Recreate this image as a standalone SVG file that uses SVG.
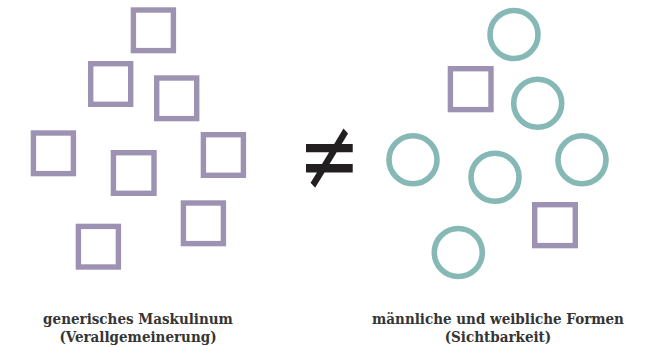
<svg xmlns="http://www.w3.org/2000/svg" width="648" height="347" viewBox="0 0 648 347">
<style>
.sq{fill:none;stroke:#9e92b2;stroke-width:5.4}
.ci{fill:none;stroke:#86b9b6;stroke-width:5.6}
.lbl{font-family:"DejaVu Serif Condensed","DejaVu Serif",serif;font-weight:bold;font-size:15px;fill:#353535;text-anchor:middle}
.ne{font-family:"DejaVu Sans",sans-serif;font-size:100.8px;fill:#231f20;text-anchor:middle}
</style>
<rect width="648" height="347" fill="#ffffff"/>
<g id="left-group">
<rect id="sq1" class="sq" x="133.4" y="10" width="40" height="40.6"/>
<rect id="sq2" class="sq" x="90.7" y="63.7" width="40" height="40.6"/>
<rect id="sq3" class="sq" x="156.7" y="78" width="40" height="40.6"/>
<rect id="sq4" class="sq" x="33.4" y="133" width="40" height="40.6"/>
<rect id="sq5" class="sq" x="113.4" y="152.7" width="40.6" height="40.6"/>
<rect id="sq6" class="sq" x="203.4" y="134.7" width="40" height="40.6"/>
<rect id="sq7" class="sq" x="183.4" y="203" width="40" height="40.6"/>
<rect id="sq8" class="sq" x="78.4" y="226.4" width="40" height="40.6"/>
</g>
<g id="not-equal">
<text class="ne" transform="translate(329.3,190.4) scale(0.741,1)" x="0" y="0">≠</text>
</g>
<g id="right-group">
<circle id="c1" class="ci" cx="514" cy="34.5" r="24"/>
<rect id="sqA" class="sq" x="450.4" y="68.7" width="40.6" height="40.9"/>
<circle id="c2" class="ci" cx="537.7" cy="103.3" r="24"/>
<circle id="c3" class="ci" cx="413" cy="159.7" r="24"/>
<circle id="c4" class="ci" cx="495" cy="177.3" r="24"/>
<circle id="c5" class="ci" cx="582" cy="159.7" r="24"/>
<rect id="sqB" class="sq" x="534.7" y="204.7" width="40.6" height="40.9"/>
<circle id="c6" class="ci" cx="458.3" cy="252.5" r="24"/>
</g>
<g id="labels">
<text class="lbl" x="138" y="324">generisches Maskulinum</text>
<text class="lbl" x="138" y="342">(Verallgemeinerung)</text>
<text class="lbl" x="498" y="324">männliche und weibliche Formen</text>
<text class="lbl" x="498" y="342">(Sichtbarkeit)</text>
</g>
</svg>
